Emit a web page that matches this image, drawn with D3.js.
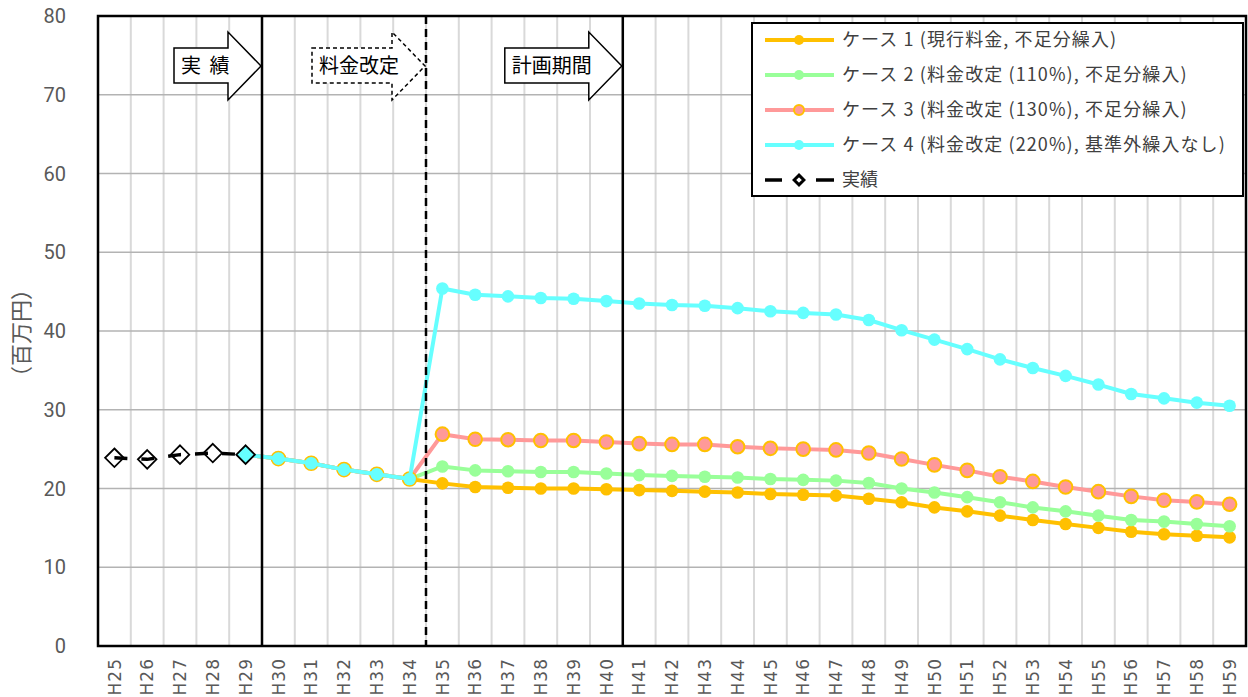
<!DOCTYPE html>
<html lang="ja">
<head>
<meta charset="utf-8">
<script src="https://cdn.jsdelivr.net/npm/d3@7"></script>
<style>
  html, body { margin: 0; padding: 0; background: #fff; }
  svg { display: block; }
  text { font-family: "Noto Sans CJK JP", "Noto Sans", sans-serif; }
</style>
</head>
<body>
<svg id="chart" width="1248" height="697"></svg>
<script>
// Fiscal years (Heisei)
const years = ["H25","H26","H27","H28","H29","H30","H31","H32","H33","H34",
  "H35","H36","H37","H38","H39","H40","H41","H42","H43","H44","H45","H46","H47",
  "H48","H49","H50","H51","H52","H53","H54","H55","H56","H57","H58","H59"];

// Actual results, H25–H29 (million yen)
const actual = [23.9, 23.7, 24.3, 24.5, 24.3];

// Shared path H29–H34 before the rate revision
const base = [24.3, 23.8, 23.2, 22.4, 21.8, 21.2];

// Projections H35–H59 for each case
const case1 = [20.65, 20.2, 20.1, 20.0, 20.0, 19.9, 19.8, 19.7, 19.6, 19.5, 19.3, 19.2, 19.1,
  18.7, 18.25, 17.6, 17.1, 16.55, 16.0, 15.5, 15.0, 14.5, 14.2, 14.0, 13.8];
const case2 = [22.8, 22.3, 22.2, 22.1, 22.1, 21.9, 21.7, 21.6, 21.5, 21.4, 21.2, 21.1, 21.0,
  20.7, 20.0, 19.5, 18.9, 18.25, 17.6, 17.1, 16.55, 16.0, 15.8, 15.5, 15.2];
const case3 = [26.9, 26.25, 26.2, 26.1, 26.1, 25.9, 25.7, 25.6, 25.6, 25.3, 25.1, 25.0, 24.9,
  24.5, 23.75, 23.0, 22.3, 21.5, 20.9, 20.2, 19.6, 19.0, 18.5, 18.3, 18.0];
const case4 = [45.4, 44.6, 44.4, 44.2, 44.1, 43.8, 43.5, 43.3, 43.2, 42.9, 42.5, 42.3, 42.1,
  41.4, 40.1, 38.9, 37.7, 36.4, 35.3, 34.3, 33.2, 32.0, 31.45, 30.9, 30.5];

const seriesNames = [
  "ケース 1 (現行料金, 不足分繰入)",
  "ケース 2 (料金改定 (110%), 不足分繰入)",
  "ケース 3 (料金改定 (130%), 不足分繰入)",
  "ケース 4 (料金改定 (220%), 基準外繰入なし)"
];
const actualName = "実績";
const yTicks = [0, 10, 20, 30, 40, 50, 60, 70, 80];
const yTitle = "（百万円）";

// Period markers: label, boundary year (arrow points to the left edge of this year), dashed
const periods = [
  { label: "実 績", until: "H30", dashed: false, width: 87 },
  { label: "料金改定", until: "H35", dashed: true, width: 113 },
  { label: "計画期間", until: "H41", dashed: false, width: 117 }
];

const colors = ["#FFC000", "#99FF99", "#FF9999", "#66FFFF"];

// Full-length series arrays aligned with years (null before the projection starts)
const nPre = actual.length - 1; // index of H29
function fullSeries(proj) {
  const arr = years.map(() => null);
  base.forEach((v, i) => arr[nPre + i] = v);
  proj.forEach((v, i) => arr[nPre + base.length + i] = v);
  return arr;
}
const cases = [case1, case2, case3, case4].map(fullSeries);
const actualFull = years.map((_, i) => i < actual.length ? actual[i] : null);

const svg = d3.select("#chart");
const margin = { left: 98, right: 2, top: 16, bottom: 51 };
const W = 1248, H = 697;
const x = d3.scaleBand().domain(years).range([margin.left, W - margin.right]).padding(0);
const y = d3.scaleLinear().domain([0, 80]).range([H - margin.bottom, margin.top]);
const cx = d => x(d) + x.bandwidth() / 2;

// Vertical gridlines at category boundaries
svg.append("g").selectAll("line").data(years.slice(1)).join("line")
  .attr("x1", d => x(d)).attr("x2", d => x(d))
  .attr("y1", y(80)).attr("y2", y(0))
  .attr("stroke", "#d9d9d9").attr("stroke-width", 2);

// Horizontal gridlines
svg.append("g").selectAll("line").data(yTicks.filter(t => t > 0 && t < 80)).join("line")
  .attr("x1", x.range()[0]).attr("x2", x.range()[1])
  .attr("y1", d => y(d)).attr("y2", d => y(d))
  .attr("stroke", "#b3b3b3").attr("stroke-width", 1.5);

// Y tick labels
svg.append("g").selectAll("text").data(yTicks).join("text")
  .attr("x", 66).attr("y", d => y(d))
  .attr("dy", "0.35em")
  .attr("text-anchor", "end")
  .attr("fill", "#595959")
  .style("font-family", "Roboto, 'Noto Sans', sans-serif")
  .style("font-size", "20px")
  .text(d => d);

// Y axis title
svg.append("text")
  .attr("transform", `translate(21,${(y(0) + y(80)) / 2 + 2}) rotate(-90)`)
  .attr("text-anchor", "middle").attr("dy", "0.35em")
  .attr("fill", "#595959").style("font-size", "22px")
  .text(yTitle);

// X tick labels (rotated)
svg.append("g").selectAll("text").data(years).join("text")
  .attr("transform", d => `translate(${cx(d)},${y(0) + 12}) rotate(-90)`)
  .attr("text-anchor", "end").attr("dy", "0.36em")
  .attr("fill", "#595959")
  .style("font-family", "'DejaVu Sans', sans-serif")
  .style("font-size", "17px")
  .style("letter-spacing", "1px")
  .text(d => d);

// Series lines
const line = d3.line()
  .defined(d => d.v !== null)
  .x(d => cx(d.k)).y(d => y(d.v));

cases.forEach((s, ci) => {
  const pts = s.map((v, i) => ({ k: years[i], v }));
  svg.append("path").datum(pts)
    .attr("d", line).attr("fill", "none")
    .attr("stroke", colors[ci]).attr("stroke-width", 4)
    .attr("stroke-linejoin", "round");
  const mk = pts.filter((d, i) => d.v !== null && actualFull[i] === null);
  svg.append("g").selectAll("circle").data(mk).join("circle")
    .attr("cx", d => cx(d.k)).attr("cy", d => y(d.v))
    .attr("r", ci === 2 ? 6.8 : 6.3)
    .attr("fill", colors[ci])
    .attr("stroke", ci === 2 ? "#FFC000" : "none")
    .attr("stroke-width", ci === 2 ? 2 : 0);
});

// Actual results: diamonds with dashed black line
const diamond = d3.symbol().type(d3.symbolDiamond2).size(220);
const actPts = actual.map((v, i) => ({ k: years[i], v }));
svg.append("g").selectAll("path").data(actPts).join("path")
  .attr("transform", d => `translate(${cx(d.k)},${y(d.v)})`)
  .attr("d", diamond)
  .attr("fill", (d, i) => i === actual.length - 1 ? colors[3] : "#fff")
  .attr("stroke", "#000").attr("stroke-width", 1.8);
svg.append("path").datum(actPts)
  .attr("d", line).attr("fill", "none")
  .attr("stroke", "#000").attr("stroke-width", 3.5)
  .attr("stroke-dasharray", "13,14");

// Period boundary lines
periods.forEach(p => {
  svg.append("line")
    .attr("x1", x(p.until)).attr("x2", x(p.until))
    .attr("y1", y(80)).attr("y2", y(0))
    .attr("stroke", "#000").attr("stroke-width", 2.5)
    .attr("stroke-dasharray", p.dashed ? "8,5" : null);
});

// Plot frame
svg.append("rect")
  .attr("x", x.range()[0]).attr("y", y(80))
  .attr("width", x.range()[1] - x.range()[0]).attr("height", y(0) - y(80))
  .attr("fill", "none").attr("stroke", "#000").attr("stroke-width", 2.5);

// Period arrows
periods.forEach(p => {
  const tip = x(p.until) - 1, left = tip - p.width, neck = tip - 33;
  const yc = 66, bt = 48, bb = 83, ht = 32, hb = 100;
  const pts = [[left, bt], [neck, bt], [neck, ht], [tip, yc], [neck, hb], [neck, bb], [left, bb]];
  svg.append("path")
    .attr("d", "M" + pts.map(q => q.join(",")).join("L") + "Z")
    .attr("fill", "#fff").attr("stroke", "#000").attr("stroke-width", 1.5)
    .attr("stroke-dasharray", p.dashed ? "4,3" : null);
  svg.append("text")
    .attr("x", left + 7).attr("y", yc).attr("dy", "0.36em")
    .attr("fill", "#000").style("font-size", "20px")
    .style("word-spacing", "4px")
    .text(p.label);
});

// Legend
const lg = svg.append("g");
lg.append("rect").attr("x", 752).attr("y", 23).attr("width", 491).attr("height", 173)
  .attr("fill", "#fff").attr("stroke", "#000").attr("stroke-width", 2);
const rowY = i => 40 + i * 35;
seriesNames.forEach((name, i) => {
  lg.append("line").attr("x1", 765).attr("x2", 834).attr("y1", rowY(i)).attr("y2", rowY(i))
    .attr("stroke", colors[i]).attr("stroke-width", 4);
  lg.append("circle").attr("cx", 799).attr("cy", rowY(i)).attr("r", 5)
    .attr("fill", colors[i])
    .attr("stroke", i === 2 ? "#FFC000" : "none").attr("stroke-width", 2);
  lg.append("text").attr("x", 842).attr("y", rowY(i)).attr("dy", "0.36em")
    .attr("fill", "#404040").style("font-size", "18px")
    .style("letter-spacing", "1.1px").text(name);
});
const ay = rowY(4);
lg.append("line").attr("x1", 765).attr("x2", 782).attr("y1", ay).attr("y2", ay)
  .attr("stroke", "#000").attr("stroke-width", 3.5);
lg.append("line").attr("x1", 816).attr("x2", 834).attr("y1", ay).attr("y2", ay)
  .attr("stroke", "#000").attr("stroke-width", 3.5);
lg.append("path").attr("transform", `translate(799,${ay})`)
  .attr("d", d3.symbol().type(d3.symbolDiamond2).size(60))
  .attr("fill", "#fff").attr("stroke", "#000").attr("stroke-width", 3);
lg.append("text").attr("x", 842).attr("y", ay).attr("dy", "0.36em")
  .attr("fill", "#404040").style("font-size", "18px").text(actualName);
</script>
</body>
</html>
